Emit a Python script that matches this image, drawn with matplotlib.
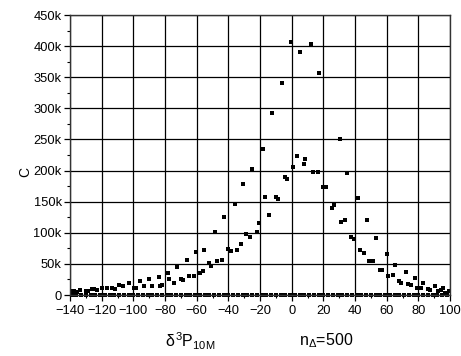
import matplotlib
matplotlib.use("Agg")
import matplotlib.pyplot as plt
from matplotlib.ticker import MultipleLocator, FuncFormatter

plt.rcParams['font.family'] = ['Liberation Sans', 'DejaVu Sans']
plt.rcParams['mathtext.fontset'] = 'custom'
plt.rcParams['mathtext.rm'] = 'Liberation Sans'
plt.rcParams['mathtext.it'] = 'Liberation Sans'
plt.rcParams['mathtext.bf'] = 'Liberation Sans:bold'

# data (C in thousands)
x_vals = [-138.7, -137.5, -135.6, -133.5, -129.9, -128.6, -126, -124.8, -123.2, -120,
          -116.8, -113.5, -111.4, -108.9, -106.5, -102.7, -99.6, -98.3, -96, -93,
          -90.4, -88.2, -83.8, -83.2, -81.7, -78.3, -77.3, -74.1, -72.6, -70.1,
          -68.4, -65.9, -64.7, -61.7, -60.4, -58, -56.3, -55.1, -52.3, -51,
          -48.2, -47, -44.2, -42.8, -40, -38.5, -35.8, -34.7, -31.8, -30.6,
          -28.8, -26.2, -24.9, -22, -20.8, -18.2, -16.7, -14.1, -12.7, -9.9,
          -8.4, -6, -4.5, -3.1, -0.6, 1.0, 3.5, 5.0, 7.5, 8.7,
          11.9, 13.6, 16.5, 17.3, 20, 21.5, 25.5, 27, 30.4, 31,
          33.9, 35.2, 37.7, 39.2, 42.1, 43.1, 45.8, 47.5, 48.8, 51.6,
          53, 55.6, 57, 60, 60.9, 63.7, 65.3, 68, 69.3, 72.2,
          73.5, 75.2, 77.7, 78.9, 81.8, 83, 86.3, 87.4, 90.3, 92.4,
          94, 95.7, 97.1, 99.4]
c_vals = [7, 7, 5.3, 7.4, 7, 5.8, 10, 9.6, 7.4, 11,
          11, 12, 9.6, 16, 14, 19, 12, 12, 22, 14,
          26, 14, 29, 14.5, 16.5, 34.7, 26, 19, 45.5, 26,
          23.5, 57, 30, 31, 69, 35, 38, 73, 52, 47,
          102, 55, 57, 125, 74, 70, 146, 72, 82, 178,
          98, 94, 203, 102, 116, 235, 157, 129, 292, 158,
          155, 340, 190, 187, 407, 206, 223, 391, 211, 219,
          404, 197, 197, 356, 174, 174, 140, 144, 251, 118,
          120, 196, 92.5, 90, 156, 73, 68, 120, 54, 54,
          92, 39.5, 39.5, 66, 30.5, 32, 49, 22.5, 20, 37,
          17, 15.4, 27, 12, 12, 20, 9.6, 8.5, 14.5, 6.4,
          7.4, 11, 4, 6.4]
zero_x = [-139, -136, -133, -130, -127, -124, -121, -118, -115, -112, -109, -106,
          -103, -100, -97, -94, -91, -88, -85, -82, -79, -76, -73, -70, -67, -64,
          -61, -58, -55, -52, -49, -46, -43, -40, -37, -34, -31, -28, -25, -22,
          -19, -16, -13, -10, -7, -4, -1, 2, 5, 8, 11, 14, 17, 20, 23, 26, 29,
          32, 35, 38, 41, 44, 47, 50, 53, 56, 59, 62, 65, 68, 71, 74, 77, 80,
          83, 86, 89, 92, 95, 98]
zero_c = [0.8] * len(zero_x)

xticks = list(range(-140, 101, 20))
yticks_k = list(range(0, 451, 50))

fig = plt.figure(figsize=(4.61, 3.56), dpi=100)
ax = fig.add_axes([70/461, 1-295/356, 380/461, 280/356])

ax.plot(x_vals, c_vals, 's', color='black', markersize=2.6, markeredgewidth=0)
ax.plot(zero_x, zero_c, 's', color='black', markersize=2.4, markeredgewidth=0, clip_on=False)

ax.set_xlim(-140, 100)
ax.set_ylim(0, 450)
ax.set_xticks(xticks)
ax.set_yticks(yticks_k)
ax.xaxis.set_minor_locator(MultipleLocator(10))
ax.yaxis.set_minor_locator(MultipleLocator(25))
ax.yaxis.set_major_formatter(FuncFormatter(lambda v, p: '0' if v == 0 else f'{int(v)}k'))
ax.grid(True, which='major', color='black', linewidth=0.9)
ax.set_axisbelow(True)
ax.tick_params(which='major', direction='out', length=4, width=0.9, labelsize=9.3, pad=2)
ax.tick_params(axis='x', which='major', pad=3.5)
ax.tick_params(which='minor', direction='out', length=2.5, width=0.8)
for s in ax.spines.values():
    s.set_linewidth(1.0)
    s.set_color('#333333')

fig.text(25/461, 1-172/356, 'C', rotation=90, fontsize=10, ha='center', va='center')
fig.text(190/461, 1-341/356, r'$\delta^3$P$_{10M}$', fontsize=11.5, ha='center', va='center')
fig.text(326/461, 1-341/356, r'n$_{\Delta}$=500', fontsize=11.5, ha='center', va='center')

fig.savefig('out.png', dpi=100)
